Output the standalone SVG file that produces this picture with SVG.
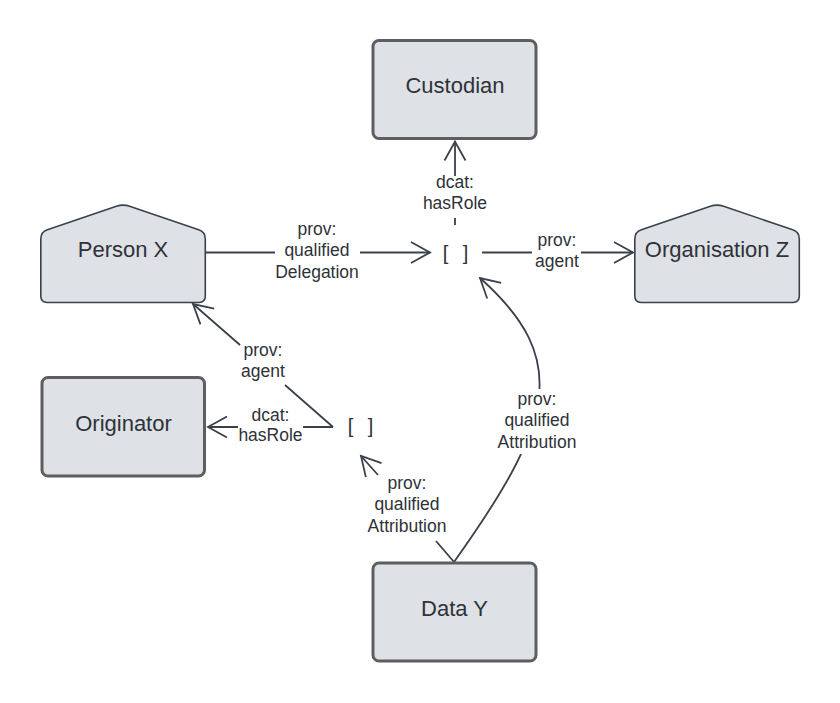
<svg xmlns="http://www.w3.org/2000/svg" width="840" height="703" viewBox="0 0 840 703">
<style>
.box{fill:#dee1e6;stroke:#5e5e5e;stroke-width:3}
.house{fill:#dee1e6;stroke:#3a414a;stroke-width:1.6}
.nt{font-family:"Liberation Sans",Arial,sans-serif;font-size:22px;fill:#2e3238;text-anchor:middle}
.lt{font-family:"Liberation Sans",Arial,sans-serif;font-size:17.5px;fill:#2e3238;text-anchor:middle}
.bt{font-family:"Liberation Sans",Arial,sans-serif;font-size:20px;fill:#2e3238;letter-spacing:4.5px}
.conn{fill:none;stroke:#3a414a;stroke-width:1.8;marker-end:url(#arr)}
</style>
<defs>
<marker id="arr" markerUnits="userSpaceOnUse" viewBox="-25 -15 30 30" refX="0" refY="0" markerWidth="30" markerHeight="30" orient="auto" overflow="visible">
<path d="M-19,-10.5 L0,0 L-19,10.5" fill="none" stroke="#3a414a" stroke-width="1.8"/>
</marker>
</defs>
<rect width="840" height="703" fill="#fff"/>
<g id="connectors">
<path class="conn" d="M206,252.5 H275 M360,252.5 H430"/>
<path class="conn" d="M455,225 V218 M455,176 V141.5"/>
<path class="conn" d="M482,252.5 H532 M581,252.5 H633"/>
<path class="conn" d="M333,427 L285,385 M240,345 L193,304"/>
<path class="conn" d="M333,427 H303 M238,427 H208"/>
<path class="conn" d="M454,562 L436,541 M378,475 L361,456"/>
<path class="conn" d="M454,562 C553,423 572,360 480,278"/>
<rect x="498" y="389" width="80" height="65" fill="#fff"/>
</g>
<g id="labels">
<text class="lt" x="317" y="234.5">prov:</text>
<text class="lt" x="317" y="256">qualified</text>
<text class="lt" x="317" y="277.5">Delegation</text>
<text class="lt" x="455" y="187.5">dcat:</text>
<text class="lt" x="455" y="209">hasRole</text>
<text class="lt" x="557" y="245.5">prov:</text>
<text class="lt" x="557" y="266.5">agent</text>
<text class="lt" x="263" y="356">prov:</text>
<text class="lt" x="263" y="377">agent</text>
<text class="lt" x="270.5" y="421">dcat:</text>
<text class="lt" x="270.5" y="441">hasRole</text>
<text class="lt" x="407" y="488.5">prov:</text>
<text class="lt" x="407" y="510">qualified</text>
<text class="lt" x="407" y="531.5">Attribution</text>
<text class="lt" x="537" y="404.5">prov:</text>
<text class="lt" x="537" y="426">qualified</text>
<text class="lt" x="537" y="447.5">Attribution</text>
</g>
<g id="custodian">
<rect class="box" x="373" y="40.5" width="163" height="98" rx="6"/>
<text class="nt" x="455" y="93">Custodian</text>
</g>
<g id="person-x">
<path class="house" d="M40.8,239 Q40.8,232 47.4,229.8 L116.4,206.2 Q123,204 129.6,206.2 L198.7,229.8 Q205.3,232 205.3,239 L205.3,296 Q205.3,302.5 199,302.5 L47,302.5 Q40.8,302.5 40.8,296 Z"/>
<text class="nt" x="123" y="257">Person X</text>
</g>
<g id="organisation-z">
<path class="house" transform="translate(594,0)" d="M40.8,239 Q40.8,232 47.4,229.8 L116.4,206.2 Q123,204 129.6,206.2 L198.7,229.8 Q205.3,232 205.3,239 L205.3,296 Q205.3,302.5 199,302.5 L47,302.5 Q40.8,302.5 40.8,296 Z"/>
<text class="nt" x="717" y="257">Organisation Z</text>
</g>
<g id="originator">
<rect class="box" x="42" y="377.5" width="162.5" height="98.5" rx="6"/>
<text class="nt" x="123.5" y="431">Originator</text>
</g>
<g id="data-y">
<rect class="box" x="373" y="563" width="163" height="98" rx="6"/>
<text class="nt" x="454.5" y="616">Data Y</text>
</g>
<g id="blank-node-1">
<text class="bt" x="442.7" y="260">[ ]</text>
</g>
<g id="blank-node-2">
<text class="bt" x="347.7" y="433">[ ]</text>
</g>
</svg>
